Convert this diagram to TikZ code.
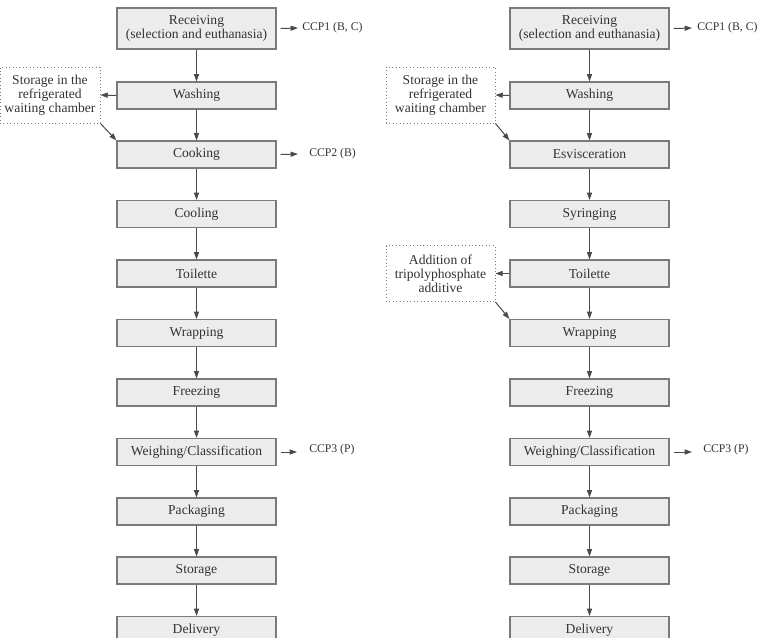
\documentclass[tikz,border=0pt]{standalone}
\usepackage{fontspec}
\setmainfont{Liberation Serif}
\usetikzlibrary{arrows.meta,calc}
\definecolor{boxfill}{HTML}{ECECEC}
\definecolor{boxline}{HTML}{7A7A7A}
\definecolor{arrcol}{HTML}{4A4A4A}
\definecolor{txtcol}{HTML}{333333}
\begin{document}
\begin{tikzpicture}[x=0.75pt,y=-0.75pt,
  stepbox/.style={draw=boxline, fill=boxfill, line width=0.8pt, minimum width=119.25pt,
    minimum height=20.25pt, inner sep=0pt, text=txtcol, align=center,
    font=\fontsize{10.2}{10.5}\selectfont},
  notebox/.style={draw=boxline, dotted, line width=0.6pt, minimum width=75pt,
    minimum height=42pt, inner sep=0pt, text=txtcol, align=center,
    font=\fontsize{10.2}{10.5}\selectfont},
  ccp/.style={anchor=west, inner sep=0pt, text=txtcol, font=\fontsize{8.8}{10}\selectfont},
  flow/.style={draw=arrcol, line width=0.75pt, -{Triangle[length=5.5pt,width=3.8pt]}}]
\useasboundingbox (0,0) rectangle (758,637);
\clip (0,0) rectangle (758,637);

% ---------- left column ----------
\node[stepbox, minimum height=30.75pt] (L1) at (196.5,28.5) {Receiving\\(selection and euthanasia)};
\node[stepbox] (L2) at (196.5,95.5) {Washing};
\node[stepbox] (L3) at (196.5,154.5) {Cooking};
\node[stepbox] (L4) at (196.5,214) {Cooling};
\node[stepbox] (L5) at (196.5,273.5) {Toilette};
\node[stepbox] (L6) at (196.5,333) {Wrapping};
\node[stepbox] (L7) at (196.5,392.5) {Freezing};
\node[stepbox] (L8) at (196.5,452) {Weighing/Classification};
\node[stepbox] (L9) at (196.5,511.5) {Packaging};
\node[stepbox] (L10) at (196.5,570.5) {Storage};
\node[stepbox] (L11) at (196.5,630) {Delivery};
\node[notebox] (LN) at (50,95) {Storage in the\\refrigerated\\waiting chamber};

\foreach \a/\b in {L1/L2,L2/L3,L3/L4,L4/L5,L5/L6,L6/L7,L7/L8,L8/L9,L9/L10,L10/L11}
  \draw[flow] (\a.south) -- (\b.north);
\draw[flow] (L2.west) -- (LN.east);
\draw[flow] (LN.south east) -- (L3.north west);

\node[ccp] (LC1) at (302,28) {CCP1 (B, C)};
\node[ccp] (LC2) at (309,154) {CCP2 (B)};
\node[ccp] (LC3) at (309,450) {CCP3 (P)};
\coordinate (la1) at (298,28);
\coordinate (la2) at (298,154);
\coordinate (la3) at (297,452);
\draw[flow] ($(L1.east)+(4,0)$) -- (la1);
\draw[flow] ($(L3.east)+(4,0)$) -- (la2);
\draw[flow] ($(L8.east)+(4,0)$) -- (la3);

% ---------- right column ----------
\node[stepbox, minimum height=30.75pt] (R1) at (589.5,28.5) {Receiving\\(selection and euthanasia)};
\node[stepbox] (R2) at (589.5,95.5) {Washing};
\node[stepbox] (R3) at (589.5,154.5) {Esvisceration};
\node[stepbox] (R4) at (589.5,214) {Syringing};
\node[stepbox] (R5) at (589.5,273.5) {Toilette};
\node[stepbox] (R6) at (589.5,333) {Wrapping};
\node[stepbox] (R7) at (589.5,392.5) {Freezing};
\node[stepbox] (R8) at (589.5,452) {Weighing/Classification};
\node[stepbox] (R9) at (589.5,511.5) {Packaging};
\node[stepbox] (R10) at (589.5,570.5) {Storage};
\node[stepbox] (R11) at (589.5,630) {Delivery};
\node[notebox, minimum width=81.75pt] (RN1) at (440.5,95) {Storage in the\\refrigerated\\waiting chamber};
\node[notebox, minimum width=81.75pt] (RN2) at (440.5,273.5) {Addition of\\tripolyphosphate\\additive};

\foreach \a/\b in {R1/R2,R2/R3,R3/R4,R4/R5,R5/R6,R6/R7,R7/R8,R8/R9,R9/R10,R10/R11}
  \draw[flow] (\a.south) -- (\b.north);
\draw[flow] (R2.west) -- (RN1.east);
\draw[flow] (RN1.south east) -- (R3.north west);
\draw[flow] (R5.west) -- (RN2.east);
\draw[flow] (RN2.south east) -- (R6.north west);

\node[ccp] (RC1) at (697,28) {CCP1 (B, C)};
\node[ccp] (RC3) at (703,450) {CCP3 (P)};
\coordinate (ra1) at (692,28);
\coordinate (ra3) at (692,452);
\draw[flow] ($(R1.east)+(4,0)$) -- (ra1);
\draw[flow] ($(R8.east)+(4,0)$) -- (ra3);
\end{tikzpicture}
\end{document}
